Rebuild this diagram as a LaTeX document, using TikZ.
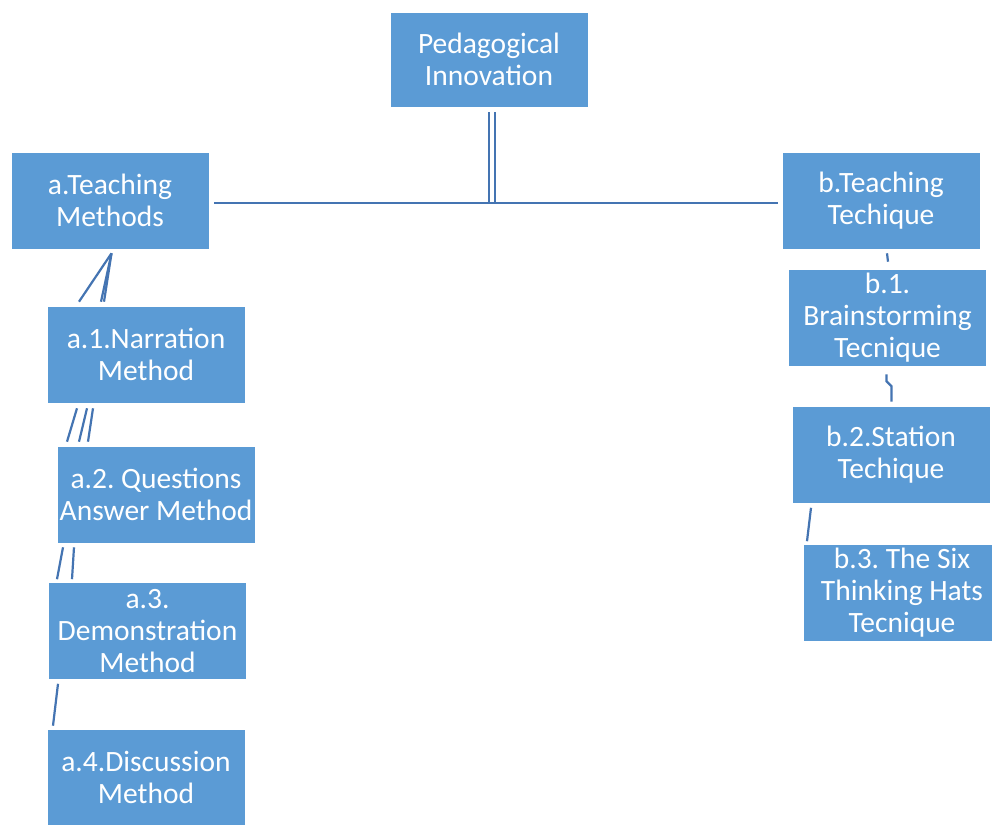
\documentclass[tikz,border=0pt]{standalone}
\usepackage{fontspec}
\setmainfont{Carlito}
\usetikzlibrary{calc}
\definecolor{boxblue}{RGB}{91,155,213}
\definecolor{lineblue}{RGB}{68,116,178}
\tikzset{
  box/.style={rectangle, fill=boxblue, draw=white, line width=0.6pt,
    minimum width=198pt, minimum height=97pt, inner sep=0pt,
    align=center, text=white,
    font=\fontsize{29.5pt}{32pt}\selectfont\frenchspacing},
  conn/.style={draw=lineblue, line width=2.6pt},
}
\begin{document}
\begin{tikzpicture}[x=1pt,y=-1pt]
\useasboundingbox (0,0) rectangle (992,824);
\fill[white] (0,0) rectangle (992,824);
\node[box, minimum height=95pt] (ped) at (489,59.5) {Pedagogical\\Innovation};
\node[box] (aTM) at (110,200.5) {a.Teaching\\Methods};
\node[box] (bTT) at (881,200.5) {b.Teaching\\Techique};
\node[box] (a1) at (146,354.5) {a.1.Narration\\Method};
\node[box] (a2) at (156,494.5) {a.2. Questions\\Answer Method};
\node[box] (a3) at (147.5,631) {a.3.\\Demonstration\\Method};
\node[box] (a4) at (146,777.5) {a.4.Discussion\\Method};
\node[box] (b1) at (887.5,317.5) {b.1.\\Brainstorming\\Tecnique};
\node[box] (b2) at (891,454.5) {b.2.Station\\Techique};
\node[box] (b3) at (902,593) {b.3. The Six\\Thinking Hats\\Tecnique};
% top connector
\coordinate (hub) at (489,203);
\draw[conn] ($(ped.south)+(0,5)$) -- (hub);
\draw[conn] ($(ped.south)+(6,5)$) -- ($(hub)+(6,0)$);
\draw[conn] ($(aTM.east)+(5,2.5)$) -- ($(bTT.west)+(-4,2.5)$);
% left chain
\draw[conn, line width=2.2pt] ($(aTM.south)+(1.5,4)$) -- ($(a1.north)+(-67,-4)$);
\draw[conn, line width=2.2pt] ($(aTM.south)+(1.5,4)$) -- ($(a1.north)+(-45,-4)$);
\draw[conn, line width=2.2pt] ($(aTM.south)+(1.5,4)$) -- ($(a1.north)+(-42,-4)$);
\draw[conn, line width=2.2pt] ($(a1.south)+(-69,5)$) -- ($(a2.north)+(-89,-4)$);
\draw[conn, line width=2.2pt] ($(a1.south)+(-59,5)$) -- ($(a2.north)+(-77,-4)$);
\draw[conn, line width=2.2pt] ($(a1.south)+(-53,5)$) -- ($(a2.north)+(-68,-4)$);
\draw[conn, line width=2.2pt] ($(a2.south)+(-93,4)$) -- ($(a3.north)+(-90.5,-3)$);
\draw[conn, line width=2.2pt] ($(a2.south)+(-82,4)$) -- ($(a3.north)+(-75.5,-3)$);
\draw[conn, line width=2.2pt] ($(a3.south)+(-89.5,4)$) -- ($(a4.north)+(-93,-3)$);
% right chain
\draw[conn, line width=2.2pt] ($(bTT.south)+(6,4)$) -- ($(b1.north)+(0.5,-7)$);
\draw[conn, line width=2.2pt] ($(b1.south)+(-1,8)$) -- ++(0,7) -- ++(5,5) -- ($(b2.north)+(0.5,-4)$);
\draw[conn, line width=2.2pt] ($(b2.south)+(-80,4.5)$) -- ($(b3.north)+(-95,-3)$);
\end{tikzpicture}
\end{document}
